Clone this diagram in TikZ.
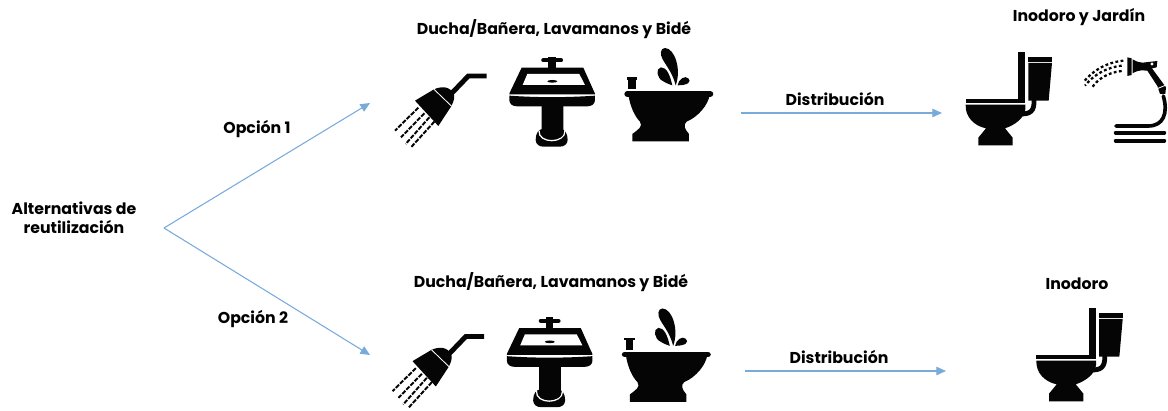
\documentclass[tikz,border=0pt]{standalone}
\usepackage{xcolor}
\usepackage{fontspec}
\setsansfont{Poppins}
\usetikzlibrary{arrows.meta}
\definecolor{flowblue}{RGB}{120, 170, 218}
\definecolor{iconblack}{RGB}{5, 5, 5}
\tikzset{
  font=\sffamily\bfseries,
  steplabel/.style={inner sep=0pt, align=center, text=black, font=\sffamily\bfseries\fontsize{11.2}{13.5}\selectfont},
  flowline/.style={draw=flowblue, -{Triangle[length=2.4mm, width=2.1mm]}, line width=0.75pt},
  iconfill/.style={fill=iconblack, draw=none},
  gapline/.style={draw=white, line width=0.6pt},
  iconline/.style={draw=iconblack, line cap=round},
  pics/showerpic/.style={code={
    \draw[iconline, line width=3.5pt, line cap=butt, line join=miter] (320,198) -- (265,198) -- (215,250);
    \fill[iconfill] (105,272) -- (162,238) .. controls (185,228) and (212,228) .. (222,255) .. controls (224,270) and (218,280) .. (213,290) -- (175,348) -- cycle;
    \draw[gapline] (162,238) -- (214,288);
    \foreach \xa/\ya/\xb/\yb in {115/293/45/362, 133/310/63/382, 148/322/77/402, 163/335/93/412}
      \draw[draw=iconblack, line width=1.4pt, dash pattern=on 3.2pt off 1pt] (\xa,\ya) -- (\xb,\yb);
  }},
  pics/sinkpic/.style={code={
    % faucet
    \draw[iconline, line width=3pt] (490,151) -- (543,151);
    \fill[iconfill] (505,140) rectangle (528,182);
    % basin
    \fill[iconfill] (425,173) -- (610,173) -- (640,240) .. controls (644,248) and (645,250) .. (645,253) -- (388,253) .. controls (388,250) and (390,246) .. (393,240) -- cycle;
    \fill[white] (442,192) -- (598,192) -- (615,225) -- (428,225) -- cycle;
    \fill[iconfill] (517,214) ellipse (15 and 4);
    \fill[iconfill] (388,257) .. controls (470,263) and (560,263) .. (645,257) -- (645,270) .. controls (645,282) and (635,289) .. (622,289) -- (411,289) .. controls (398,289) and (388,282) .. (388,270) -- cycle;
    % pedestal
    \fill[iconfill] (467,390) .. controls (467,370) and (475,358) .. (490,356) -- (540,356) .. controls (555,358) and (563,370) .. (563,390) .. controls (563,404) and (550,410) .. (540,410) -- (490,410) .. controls (480,410) and (467,404) .. (467,390) -- cycle;
    \draw[gapline, line width=0.9pt] (477,362) .. controls (474,402) and (556,402) .. (555,362);
    \fill[iconfill] (485,288) -- (550,288) -- (550,372) .. controls (548,392) and (487,392) .. (485,372) -- cycle;
  }},
  pics/bidetpic/.style={code={
    % water
    \fill[iconfill] (887,226) .. controls (905,180) and (885,115) .. (855,114) .. controls (840,114) and (840,135) .. (848,148) .. controls (862,172) and (878,190) .. (887,226) -- cycle;
    \fill[iconfill] (877,226) .. controls (870,195) and (860,172) .. (843,172) .. controls (826,175) and (830,205) .. (850,214) .. controls (860,220) and (870,224) .. (877,226) -- cycle;
    \fill[iconfill] (893,226) .. controls (895,208) and (915,195) .. (925,205) .. controls (935,215) and (925,226) .. (893,226) -- cycle;
    % tap
    \fill[iconfill] (740,202) rectangle (772,210);
    \fill[iconfill] (745,208) rectangle (767,238);
    % bowl
    \draw[iconline, line width=4.2pt] (742,252) -- (991,252);
    \fill[iconfill] (745,252) -- (990,252) .. controls (985,285) and (955,320) .. (920,335) .. controls (908,345) and (915,358) .. (927,372) -- (927,394) -- (757,394) -- (757,372) .. controls (775,358) and (790,350) .. (780,335) .. controls (765,320) and (750,290) .. (745,252) -- cycle;
  }},
  pics/toiletpic/.style={code={
    % back and tank
    \fill[iconfill] (205,155) rectangle (225,300);
    \fill[iconfill] (235,170) rectangle (306,185);
    \fill[iconfill] (235,189) -- (306,189) -- (296,302) -- (235,302) -- cycle;
    % pipe
    \draw[draw=iconblack, line width=3.4pt] (252,298) .. controls (254,335) and (240,342) .. (212,342);
    % seat and bowl
    \fill[iconfill] (47,298) rectangle (225,310);
    \fill[iconfill] (47,314) -- (226,314) -- (226,328) .. controls (222,355) and (195,375) .. (165,385) -- (188,413) -- (188,436) -- (85,436) -- (85,413) -- (108,385) .. controls (72,378) and (45,350) .. (47,314) -- cycle;
  }},
  pics/hosepic/.style={code={
    % coils
    \draw[draw=iconblack, line width=2.6pt, line cap=round] (640,288) .. controls (655,340) and (640,378) .. (595,378) -- (498,378);
    \draw[iconline, line width=2.7pt] (497,398) -- (643,398);
    \draw[iconline, line width=2.7pt] (497,422) -- (643,422);
    % nozzle
    \fill[iconfill] (532,172) -- (545,175) -- (545,225) -- (532,228) -- cycle;
    \fill[iconfill] (548,178) .. controls (560,185) and (568,188) .. (578,188) -- (622,183) -- (620,202) -- (606,205) -- (648,262) -- (646,282) -- (630,282) -- (622,258) -- (592,212) -- (575,211) .. controls (568,211) and (558,214) .. (548,220) -- cycle;
    \draw[gapline] (622,266) -- (646,256);
    \fill[white] (606,192) circle (5);
    % spray
    \foreach \xa/\ya/\xb/\yb/\xc/\yc/\xd/\yd in {520/182/465/188/425/215/400/247, 515/197/470/202/430/225/405/257, 515/213/470/218/440/240/425/265}
      \draw[draw=iconblack, line width=1.6pt, dash pattern=on 2pt off 1.7pt] (\xa,\ya) .. controls (\xb,\yb) and (\xc,\yc) .. (\xd,\yd);
  }}
}
\begin{document}
\begin{tikzpicture}[x=0.025cm, y=-0.025cm]
  \useasboundingbox (0,0) rectangle (1168,411);

  % Left label and fork
  \node[steplabel] (reuse) at (74,218) {Alternativas de\\reutilización};
  \coordinate (fork) at (164,228);
  \coordinate (rowa) at (370,103);
  \coordinate (rowb) at (370,355);
  \node[steplabel] (opta) at (257,129) {Opción 1};
  \node[steplabel] (optb) at (253,319) {Opción 2};
  \draw[flowline] (fork) -- (rowa);
  \draw[flowline] (fork) -- (rowb);

  % Option 1 row
  \node[steplabel] (usea) at (554,29) {Ducha/Bañera, Lavamanos y Bidé};
  \pic[scale=0.3333] (showera) at (380,10) {showerpic};
  \pic[scale=0.3333] (sinka) at (380,10) {sinkpic};
  \pic[scale=0.3333] (bideta) at (380,10) {bidetpic};
  \node[steplabel] (dista) at (835,99) {Distribución};
  \coordinate (distaout) at (741,113);
  \coordinate (distain) at (942,113);
  \draw[flowline] (distaout) -- (distain);
  \node[steplabel] (enda) at (1079,17) {Inodoro y Jardín};
  \pic[scale=0.3333] (toileta) at (950,0) {toiletpic};
  \pic[scale=0.3333] (hosea) at (950,0) {hosepic};

  % Option 2 row
  \node[steplabel] (useb) at (551,282) {Ducha/Bañera, Lavamanos y Bidé};
  \pic[scale=0.3333] (showerb) at (377.5,270.5) {showerpic};
  \pic[scale=0.3333] (sinkb) at (377.5,270.5) {sinkpic};
  \pic[scale=0.3333] (bidetb) at (377.5,270.5) {bidetpic};
  \node[steplabel] (distb) at (839,357) {Distribución};
  \coordinate (distbout) at (745,371);
  \coordinate (distbin) at (946,371);
  \draw[flowline] (distbout) -- (distbin);
  \node[steplabel] (endb) at (1077,284) {Inodoro};
  \pic[scale=0.3333] (toiletb) at (1020.7,256) {toiletpic};
\end{tikzpicture}
\end{document}
